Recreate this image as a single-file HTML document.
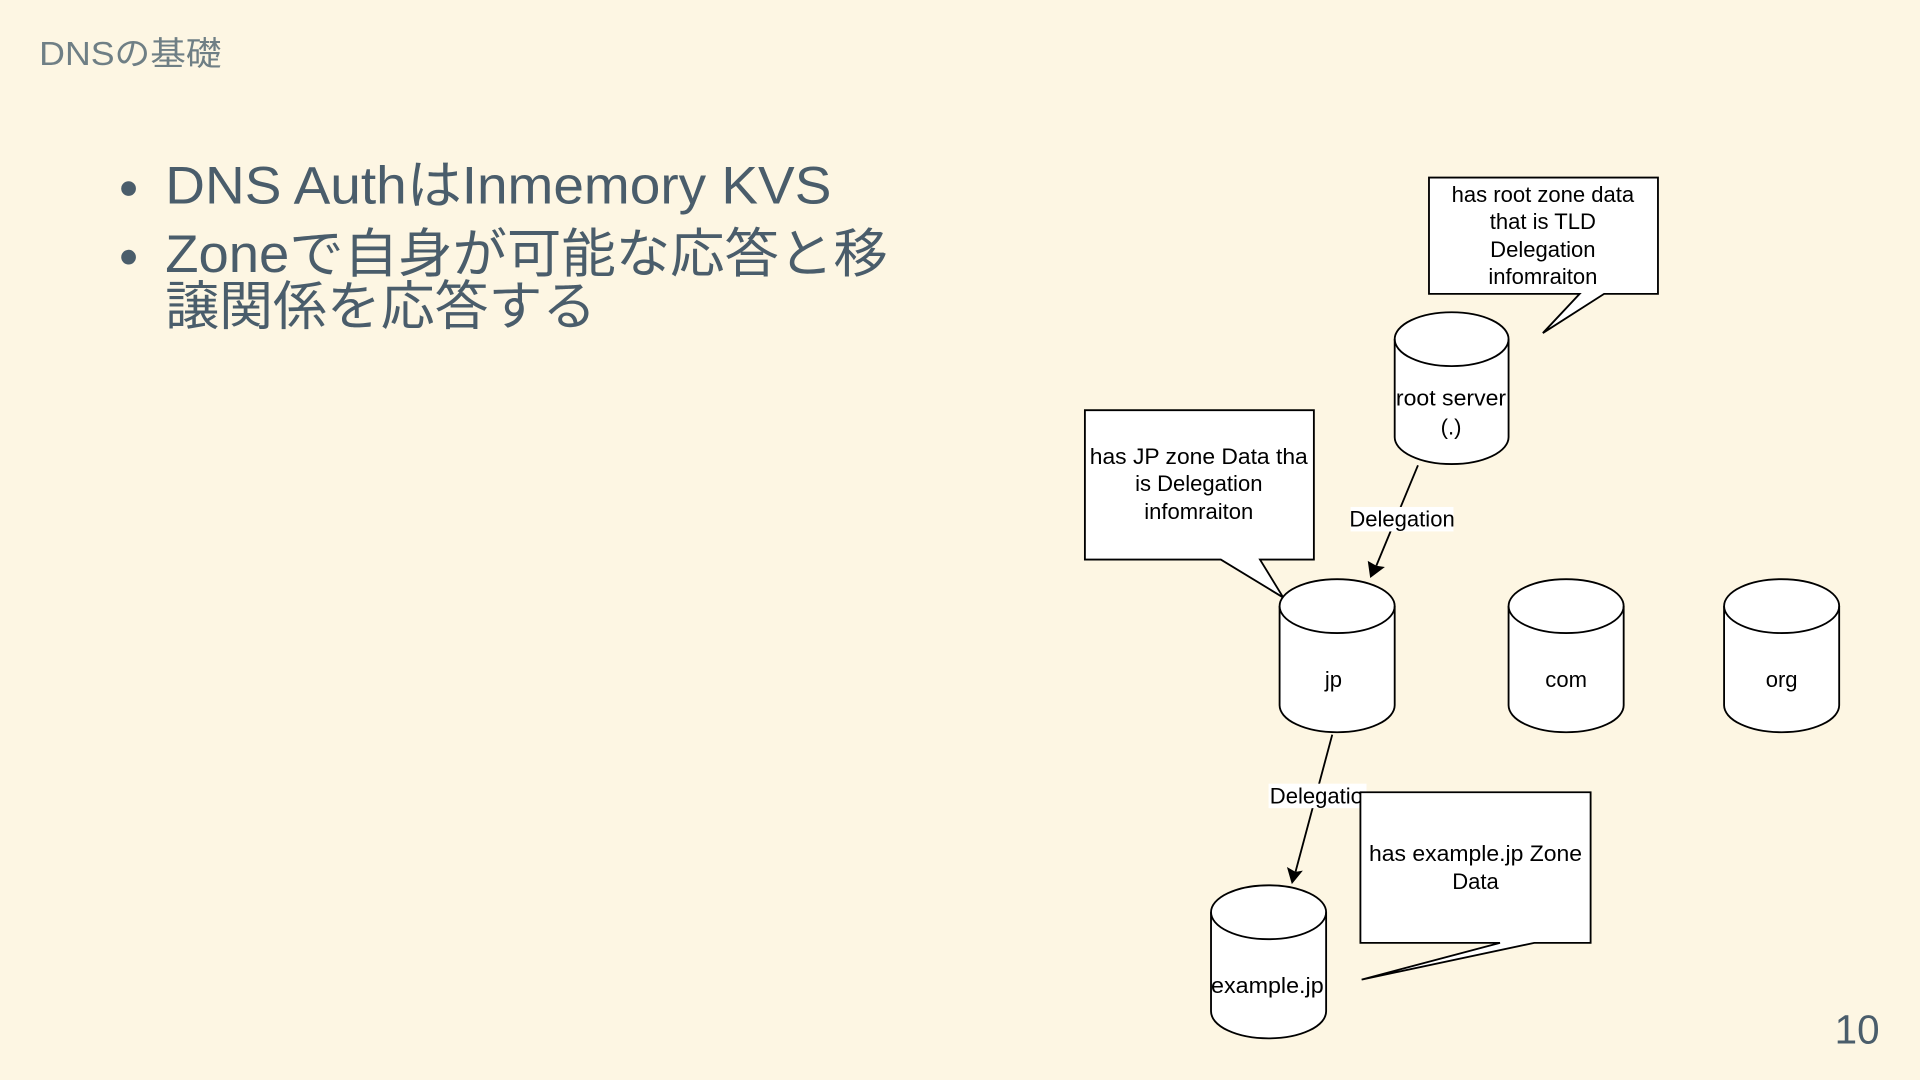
<!DOCTYPE html>
<html><head><meta charset="utf-8"><style>
html,body{margin:0;padding:0;background:#fdf6e3;width:1920px;height:1080px;overflow:hidden}
svg{display:block}
.jp{font-family:"Liberation Sans","Noto Sans CJK JP",sans-serif}
.d{font-family:"Liberation Sans",sans-serif;font-size:18px;fill:#000}
</style></head><body>
<svg width="1920" height="1080" viewBox="0 0 1568 882" xmlns="http://www.w3.org/2000/svg">
<rect width="1568" height="882" fill="#fdf6e3"/>
<text x="32" y="53" class="jp" font-size="27" fill="#6f7f85" textLength="149" lengthAdjust="spacingAndGlyphs">DNSの基礎</text>
<circle cx="105" cy="154" r="6" fill="#4a5d6b"/>
<circle cx="105" cy="210" r="6" fill="#4a5d6b"/>
<g class="jp" font-size="43" fill="#4a5d6b">
<text x="135" y="166" textLength="544" lengthAdjust="spacingAndGlyphs">DNS AuthはInmemory KVS</text>
<text x="135" y="222" textLength="590" lengthAdjust="spacingAndGlyphs">Zoneで自身が可能な応答と移</text>
<text x="135" y="265" textLength="352" lengthAdjust="spacingAndGlyphs">譲関係を応答する</text>
</g>
<g fill="#fff" stroke="#000" stroke-width="1.5">
<path d="M1167,145 H1354 V240 H1310 L1260,272 L1290,240 H1167 Z"/>
<path d="M886,335 H1073 V457 H1029 L1048,488 L997,457 H886 Z"/>
<path d="M1139,277 A46.5,22 0 0 1 1232,277 V357 A46.5,22 0 0 1 1139,357 Z"/><path d="M1139,277 A46.5,22 0 0 0 1232,277" fill="none"/>
<path d="M1045,495 A47,22 0 0 1 1139,495 V576 A47,22 0 0 1 1045,576 Z"/><path d="M1045,495 A47,22 0 0 0 1139,495" fill="none"/>
<path d="M1232,495 A47,22 0 0 1 1326,495 V576 A47,22 0 0 1 1232,576 Z"/><path d="M1232,495 A47,22 0 0 0 1326,495" fill="none"/>
<path d="M1408,495 A47,22 0 0 1 1502,495 V576 A47,22 0 0 1 1408,576 Z"/><path d="M1408,495 A47,22 0 0 0 1502,495" fill="none"/>
<path d="M989,745 A47,22 0 0 1 1083,745 V826 A47,22 0 0 1 989,826 Z"/><path d="M989,745 A47,22 0 0 0 1083,745" fill="none"/>
</g>
<g stroke="#000" stroke-width="1.5" fill="none">
<line x1="1158" y1="380" x2="1124" y2="462"/>
<line x1="1088" y1="600" x2="1058" y2="712"/>
</g>
<path d="M1119,472 L1117,458 L1124,462 L1131,463 Z" fill="#000"/>
<path d="M1055,722 L1051,708 L1058,712 L1064,711 Z" fill="#000"/>
<rect x="1103" y="414" width="84" height="20" fill="#fff"/>
<text x="1145" y="430" class="d" text-anchor="middle" font-size="17">Delegation</text>
<rect x="1036" y="640" width="80" height="20" fill="#fff"/>
<text x="1037" y="656" class="d" font-size="17">Delegation</text>
<path d="M1111,647 H1299 V770 H1253 L1112,800 L1225,770 H1111 Z" fill="#fff" stroke="#000" stroke-width="1.5"/>
<g class="d" text-anchor="middle">
<text x="1260" y="165">has root zone data</text>
<text x="1260" y="187">that is TLD</text>
<text x="1260" y="210">Delegation</text>
<text x="1260" y="232">infomraiton</text>
<text x="979" y="379" textLength="178" lengthAdjust="spacingAndGlyphs">has JP zone Data tha</text>
<text x="979" y="401">is Delegation</text>
<text x="979" y="424">infomraiton</text>
<text x="1185" y="331" textLength="90" lengthAdjust="spacingAndGlyphs">root server</text>
<text x="1185" y="355">(.)</text>
<text x="1089" y="561">jp</text>
<text x="1279" y="561">com</text>
<text x="1455" y="561">org</text>
<text x="1035" y="811" textLength="92" lengthAdjust="spacingAndGlyphs">example.jp</text>
<text x="1205" y="703" textLength="174" lengthAdjust="spacingAndGlyphs">has example.jp Zone</text>
<text x="1205" y="726">Data</text>
</g>
<text x="1535" y="852" class="jp" font-size="33" fill="#4a5d6b" text-anchor="end">10</text>
</svg>
</body></html>
